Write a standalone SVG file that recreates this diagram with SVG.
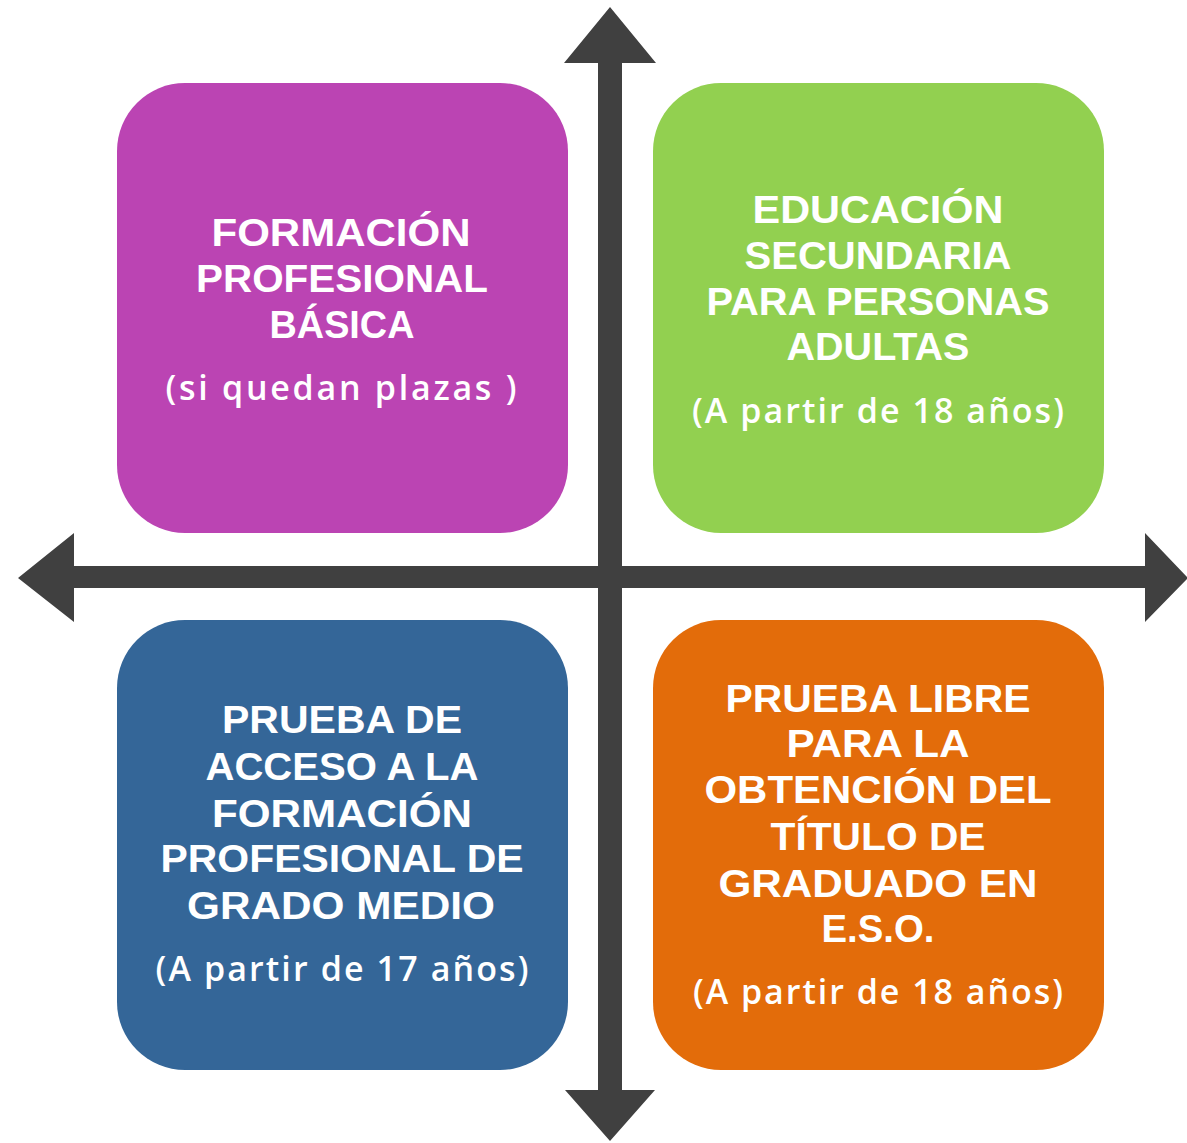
<svg xmlns="http://www.w3.org/2000/svg" width="1187" height="1143" viewBox="0 0 1187 1143">
  <style>
    .t { font-family: "Liberation Sans", Arial, sans-serif; font-weight: bold; font-size: 38px; fill: #ffffff; text-anchor: middle; }
    .s { font-family: "Open Sans", "Liberation Sans", Arial, sans-serif; font-weight: 600; font-size: 34px; fill: #ffffff; text-anchor: middle; }
    .arrow { fill: #404040; }
  </style>
  <rect width="1187" height="1143" fill="#ffffff"/>
  <g id="node-fp-basica">
    <rect x="117" y="83" width="451" height="450" rx="68" fill="#BB44B3"/>
    <text class="t" x="341" y="246" textLength="259" lengthAdjust="spacingAndGlyphs">FORMACIÓN</text>
    <text class="t" x="342" y="292" textLength="292" lengthAdjust="spacingAndGlyphs">PROFESIONAL</text>
    <text class="t" x="342" y="338" textLength="145" lengthAdjust="spacingAndGlyphs">BÁSICA</text>
    <text class="s" x="341" y="400" textLength="351" lengthAdjust="spacing">(si quedan plazas )</text>
  </g>
  <g id="node-esa">
    <rect x="653" y="83" width="451" height="450" rx="68" fill="#92D050"/>
    <text class="t" x="878" y="223" textLength="251" lengthAdjust="spacingAndGlyphs">EDUCACIÓN</text>
    <text class="t" x="878" y="269" textLength="267" lengthAdjust="spacingAndGlyphs">SECUNDARIA</text>
    <text class="t" x="878" y="315" textLength="343" lengthAdjust="spacingAndGlyphs">PARA PERSONAS</text>
    <text class="t" x="878" y="360" textLength="183" lengthAdjust="spacingAndGlyphs">ADULTAS</text>
    <text class="s" x="878" y="423" textLength="372" lengthAdjust="spacing">(A partir de 18 años)</text>
  </g>
  <g id="node-prueba-acceso">
    <rect x="117" y="620" width="451" height="450" rx="68" fill="#346698"/>
    <text class="t" x="342" y="733" textLength="240" lengthAdjust="spacingAndGlyphs">PRUEBA DE</text>
    <text class="t" x="342" y="780" textLength="273" lengthAdjust="spacingAndGlyphs">ACCESO A LA</text>
    <text class="t" x="342" y="827" textLength="260" lengthAdjust="spacingAndGlyphs">FORMACIÓN</text>
    <text class="t" x="342" y="872" textLength="363" lengthAdjust="spacingAndGlyphs">PROFESIONAL DE</text>
    <text class="t" x="341" y="919" textLength="308" lengthAdjust="spacingAndGlyphs">GRADO MEDIO</text>
    <text class="s" x="342" y="981" textLength="373" lengthAdjust="spacing">(A partir de 17 años)</text>
  </g>
  <g id="node-prueba-libre">
    <rect x="653" y="620" width="451" height="450" rx="68" fill="#E36C0A"/>
    <text class="t" x="878" y="712" textLength="305" lengthAdjust="spacingAndGlyphs">PRUEBA LIBRE</text>
    <text class="t" x="878" y="757" textLength="183" lengthAdjust="spacingAndGlyphs">PARA LA</text>
    <text class="t" x="878" y="803" textLength="347" lengthAdjust="spacingAndGlyphs">OBTENCIÓN DEL</text>
    <text class="t" x="878" y="850" textLength="215" lengthAdjust="spacingAndGlyphs">TÍTULO DE</text>
    <text class="t" x="878" y="897" textLength="319" lengthAdjust="spacingAndGlyphs">GRADUADO EN</text>
    <text class="t" x="878" y="942" textLength="113" lengthAdjust="spacingAndGlyphs">E.S.O.</text>
    <text class="s" x="878" y="1004" textLength="370" lengthAdjust="spacing">(A partir de 18 años)</text>
  </g>
  <g id="connectors">
    <polygon class="arrow" points="610,7 656,63 622,63 622,1090 655,1090 610,1141 565,1090 598,1090 598,63 564,63"/>
    <polygon class="arrow" points="18,578 74,533 74,566 1145,566 1145,533 1188,578 1145,622 1145,588 74,588 74,622"/>
  </g>
</svg>
